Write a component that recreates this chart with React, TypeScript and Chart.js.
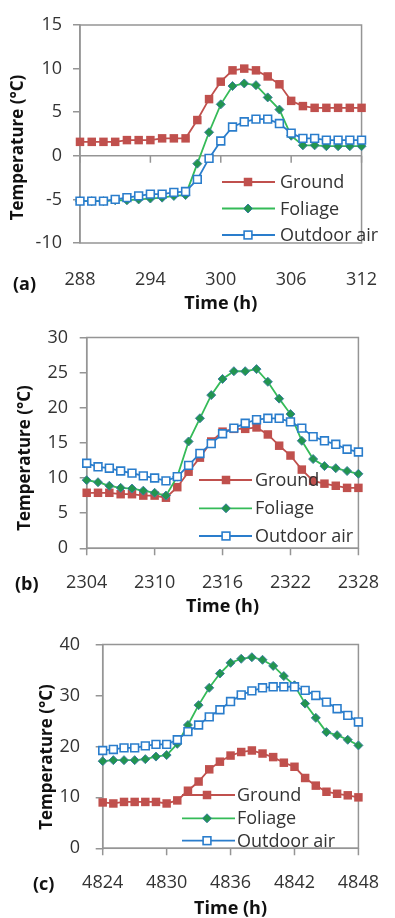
import React, { useEffect, useRef } from 'react';
import { Chart, registerables } from 'chart.js';

Chart.register(...registerables);

// ---------- data ----------
const seriesNames = ['Ground', 'Foliage', 'Outdoor air'];

const hoursA = [288, 289, 290, 291, 292, 293, 294, 295, 296, 297, 298, 299, 300, 301, 302, 303, 304, 305, 306, 307, 308, 309, 310, 311, 312];
const groundA = [1.6, 1.6, 1.6, 1.6, 1.8, 1.8, 1.8, 2.0, 2.0, 2.0, 4.1, 6.5, 8.5, 9.8, 10.0, 9.8, 9.1, 8.2, 6.3, 5.7, 5.5, 5.5, 5.5, 5.5, 5.5];
const foliageA = [-5.2, -5.2, -5.2, -5.1, -5.1, -5.0, -4.9, -4.8, -4.6, -4.5, -0.9, 2.7, 5.9, 8.0, 8.3, 8.1, 6.7, 5.3, 2.3, 1.2, 1.2, 1.1, 1.1, 1.1, 1.1];
const outdoorA = [-5.2, -5.2, -5.2, -5.0, -4.8, -4.6, -4.4, -4.4, -4.2, -4.1, -2.7, -0.3, 1.7, 3.3, 3.9, 4.2, 4.2, 3.7, 2.6, 2.0, 2.0, 1.8, 1.8, 1.8, 1.8];
const xTicksA = [288, 294, 300, 306, 312];
const yTicksA = [-10, -5, 0, 5, 10, 15];

const hoursB = [2304, 2305, 2306, 2307, 2308, 2309, 2310, 2311, 2312, 2313, 2314, 2315, 2316, 2317, 2318, 2319, 2320, 2321, 2322, 2323, 2324, 2325, 2326, 2327, 2328];
const groundB = [7.9, 7.9, 7.9, 7.7, 7.7, 7.5, 7.5, 7.2, 8.7, 10.9, 12.9, 15.2, 16.6, 17.0, 17.0, 17.2, 16.2, 14.6, 13.2, 11.2, 9.6, 9.2, 8.9, 8.6, 8.6];
const foliageB = [9.7, 9.4, 8.9, 8.6, 8.5, 8.2, 7.9, 7.5, 10.2, 15.2, 18.5, 21.8, 24.1, 25.2, 25.2, 25.5, 23.7, 21.3, 19.1, 15.3, 12.7, 11.7, 11.4, 11.0, 10.6];
const outdoorB = [12.1, 11.6, 11.4, 11.0, 10.7, 10.3, 10.0, 9.6, 10.2, 11.8, 13.5, 14.9, 16.3, 17.1, 17.8, 18.3, 18.5, 18.5, 18.0, 17.1, 15.9, 15.3, 14.8, 14.1, 13.7];
const xTicksB = [2304, 2310, 2316, 2322, 2328];
const yTicksB = [0, 5, 10, 15, 20, 25, 30];

const hoursC = [4824, 4825, 4826, 4827, 4828, 4829, 4830, 4831, 4832, 4833, 4834, 4835, 4836, 4837, 4838, 4839, 4840, 4841, 4842, 4843, 4844, 4845, 4846, 4847, 4848];
const groundC = [9.0, 8.8, 9.1, 9.1, 9.1, 9.1, 8.8, 9.4, 11.3, 13.1, 15.5, 17.0, 18.2, 18.9, 19.2, 18.6, 17.9, 16.8, 16.0, 13.8, 12.3, 11.1, 10.7, 10.4, 10.0];
const foliageC = [17.1, 17.3, 17.3, 17.3, 17.5, 18.0, 18.3, 20.5, 24.2, 28.1, 31.5, 34.3, 36.4, 37.2, 37.5, 37.0, 35.8, 33.8, 32.0, 28.4, 25.6, 22.8, 22.2, 21.3, 20.2];
const outdoorC = [19.2, 19.4, 19.7, 19.7, 20.1, 20.4, 20.4, 21.3, 22.9, 24.2, 25.8, 27.2, 28.8, 30.1, 30.9, 31.5, 31.7, 31.7, 31.7, 31.0, 30.0, 28.7, 27.4, 26.1, 24.8];
const xTicksC = [4824, 4830, 4836, 4842, 4848];
const yTicksC = [0, 10, 20, 30, 40];

// ---------- styles ----------
const FONT = "'Open Sans', 'DejaVu Sans', sans-serif";
const AXIS = '#959595';
const TEXT = '#333333';
const C_GROUND = '#c0504d';
const C_FOL_LINE = '#35bb58';
const C_FOL_FILL = '#22954f';
const C_FOL_EDGE = '#3d80a0';
const C_OUT = '#2a7dcc';

type Layout = {
  top: number; height: number; axisW: number; padTop: number; padRight: number;
  xAxisH: number; xTickPad: number; yTickPad: number; titlePadB: number;
  yTitleX: number; yTitleY: number; label: string; labelX: number; labelY: number;
  legRows: number[]; legLine: [number, number]; legMarker: number; legText: number;
};

const decorPlugin = {
  id: 'decor',
  beforeDatasetsDraw(chart: any) {
    const { ctx, chartArea: ca } = chart;
    const xs = chart.scales.x, ys = chart.scales.y;
    ctx.save();
    ctx.strokeStyle = AXIS;
    ctx.lineWidth = 1.5;
    ctx.strokeRect(ca.left, ca.top, ca.right - ca.left, ca.bottom - ca.top);
    const y0 = ys.getPixelForValue(0);
    ctx.beginPath();
    ctx.moveTo(ca.left, y0);
    ctx.lineTo(ca.right, y0);
    for (const t of xs.ticks) {
      const px = xs.getPixelForValue(t.value);
      ctx.moveTo(px, y0);
      ctx.lineTo(px, y0 + 7);
    }
    ctx.stroke();
    ctx.restore();
  },
  afterDatasetsDraw(chart: any, _a: any, o: any) {
    const { ctx } = chart;
    const L: Layout = o.layout;
    ctx.save();
    ctx.font = `18px ${FONT}`;
    ctx.textBaseline = 'middle';
    ctx.textAlign = 'left';
    seriesNames.forEach((name, i) => {
      const y = L.legRows[i];
      const col = i === 0 ? C_GROUND : i === 1 ? C_FOL_LINE : C_OUT;
      ctx.strokeStyle = col;
      ctx.lineWidth = 1.8;
      ctx.beginPath();
      ctx.moveTo(L.legLine[0], y);
      ctx.lineTo(L.legLine[1], y);
      ctx.stroke();
      const m = L.legMarker;
      if (i === 0) {
        ctx.fillStyle = C_GROUND;
        ctx.fillRect(m - 4.25, y - 4.25, 8.5, 8.5);
      } else if (i === 1) {
        ctx.beginPath();
        ctx.moveTo(m, y - 4.5);
        ctx.lineTo(m + 4.5, y);
        ctx.lineTo(m, y + 4.5);
        ctx.lineTo(m - 4.5, y);
        ctx.closePath();
        ctx.fillStyle = C_FOL_FILL;
        ctx.fill();
        ctx.strokeStyle = C_FOL_EDGE;
        ctx.lineWidth = 1;
        ctx.stroke();
      } else {
        ctx.fillStyle = '#ffffff';
        ctx.fillRect(m - 3.9, y - 3.9, 7.8, 7.8);
        ctx.strokeStyle = C_OUT;
        ctx.lineWidth = 1.6;
        ctx.strokeRect(m - 3.9, y - 3.9, 7.8, 7.8);
      }
      ctx.fillStyle = TEXT;
      ctx.fillText(name, L.legText, y + 1);
    });
    ctx.restore();
  },
  afterDraw(chart: any, _a: any, o: any) {
    const { ctx } = chart;
    const L: Layout = o.layout;
    ctx.save();
    ctx.fillStyle = '#111111';
    ctx.textBaseline = 'middle';
    ctx.font = `bold 17px ${FONT}`;
    ctx.translate(L.yTitleX, L.yTitleY);
    ctx.rotate(-Math.PI / 2);
    ctx.textAlign = 'center';
    ctx.fillText('Temperature (°C)', 0, 0);
    ctx.restore();
    ctx.save();
    ctx.fillStyle = '#111111';
    ctx.textBaseline = 'middle';
    ctx.textAlign = 'left';
    ctx.font = `bold 18px ${FONT}`;
    ctx.fillText(L.label, L.labelX, L.labelY);
    ctx.restore();
  },
};

type PanelProps = {
  hours: number[]; ground: number[]; foliage: number[]; outdoor: number[];
  xTicks: number[]; yTicks: number[]; layout: Layout;
};

function Panel({ hours, ground, foliage, outdoor, xTicks, yTicks, layout }: PanelProps) {
  const ref = useRef<HTMLCanvasElement>(null);
  useEffect(() => {
    const pts = (vals: number[]) => hours.map((h, i) => ({ x: h, y: vals[i] }));
    const chart = new Chart(ref.current as HTMLCanvasElement, {
      type: 'line',
      data: {
        datasets: [
          {
            label: seriesNames[0], data: pts(ground), borderColor: C_GROUND, backgroundColor: C_GROUND,
            borderWidth: 1.8, pointStyle: 'rect', pointRadius: 6, pointBorderWidth: 0,
            pointBackgroundColor: C_GROUND, tension: 0, order: 3, clip: false,
          } as any,
          {
            label: seriesNames[1], data: pts(foliage), borderColor: C_FOL_LINE, backgroundColor: C_FOL_FILL,
            borderWidth: 1.8, pointStyle: 'rectRot', pointRadius: 4.5, pointBorderWidth: 1,
            pointBackgroundColor: C_FOL_FILL, pointBorderColor: C_FOL_EDGE, tension: 0, order: 2, clip: false,
          } as any,
          {
            label: seriesNames[2], data: pts(outdoor), borderColor: C_OUT, backgroundColor: '#ffffff',
            borderWidth: 1.8, pointStyle: 'rect', pointRadius: 5.5, pointBorderWidth: 1.6,
            pointBackgroundColor: '#ffffff', pointBorderColor: C_OUT, tension: 0, order: 1, clip: false,
          } as any,
        ],
      },
      options: {
        responsive: false,
        animation: false,
        events: [],
        layout: {
          padding: { left: 0, top: layout.padTop, right: layout.padRight, bottom: 0 },
          autoPadding: false,
        } as any,
        plugins: {
          legend: { display: false },
          tooltip: { enabled: false },
          decor: { layout },
        } as any,
        scales: {
          x: {
            type: 'linear',
            position: 'bottom',
            min: xTicks[0],
            max: xTicks[xTicks.length - 1],
            afterBuildTicks: (s: any) => { s.ticks = xTicks.map((v) => ({ value: v })); },
            afterFit: (s: any) => { s.height = layout.xAxisH; },
            grid: { display: false },
            border: { display: false },
            ticks: {
              color: TEXT, font: { family: FONT, size: 18 }, padding: layout.xTickPad,
              maxRotation: 0, autoSkip: false, callback: (v: any) => String(v),
            },
            title: {
              display: true, text: 'Time (h)', color: '#111111',
              font: { family: FONT, size: 18, weight: 'bold' },
              padding: { top: 0, bottom: layout.titlePadB },
            },
          },
          y: {
            type: 'linear',
            min: yTicks[0],
            max: yTicks[yTicks.length - 1],
            afterBuildTicks: (s: any) => { s.ticks = yTicks.map((v) => ({ value: v })); },
            afterFit: (s: any) => { s.width = layout.axisW; },
            grid: { drawOnChartArea: false, drawTicks: true, tickLength: 7, color: AXIS, lineWidth: 1.5 },
            border: { display: true, color: AXIS, width: 1.5 },
            ticks: {
              color: TEXT, font: { family: FONT, size: 18 }, padding: layout.yTickPad,
              callback: (v: any) => String(v),
            },
          },
        } as any,
      },
      plugins: [decorPlugin as any],
    });
    return () => chart.destroy();
  }, []);
  return (
    <canvas
      ref={ref}
      width={395}
      height={layout.height}
      style={{ position: 'absolute', left: 0, top: layout.top, width: 395, height: layout.height }}
    />
  );
}

const layoutA: Layout = {
  top: 0, height: 315, axisW: 80, padTop: 25, padRight: 19, xAxisH: 72, xTickPad: 18, yTickPad: 11,
  titlePadB: 0, yTitleX: 18, yTitleY: 147.5, label: '(a)', labelX: 13, labelY: 285,
  legRows: [182, 208.5, 235], legLine: [222, 275], legMarker: 248, legText: 280,
};
const layoutB: Layout = {
  top: 315, height: 303, axisW: 86.7, padTop: 19.3, padRight: 18.3, xAxisH: 69.7, xTickPad: 16, yTickPad: 11.7,
  titlePadB: 0, yTitleX: 25, yTitleY: 143, label: '(b)', labelX: 15, labelY: 270,
  legRows: [165, 193.3, 221], legLine: [199, 252], legMarker: 226, legText: 255,
};
const layoutC: Layout = {
  top: 618, height: 300, axisW: 102.7, padTop: 22, padRight: 33.3, xAxisH: 69.7, xTickPad: 16, yTickPad: 15.7,
  titlePadB: -2, yTitleX: 47.5, yTitleY: 139, label: '(c)', labelX: 33, labelY: 267,
  legRows: [177, 200.3, 222.7], legLine: [182, 235], legMarker: 207, legText: 237,
};

export default function App() {
  return (
    <div style={{ position: 'absolute', left: 0, top: 0, width: 395, height: 918, overflow: 'hidden', background: '#ffffff' }}>
      <Panel hours={hoursA} ground={groundA} foliage={foliageA} outdoor={outdoorA} xTicks={xTicksA} yTicks={yTicksA} layout={layoutA} />
      <Panel hours={hoursB} ground={groundB} foliage={foliageB} outdoor={outdoorB} xTicks={xTicksB} yTicks={yTicksB} layout={layoutB} />
      <Panel hours={hoursC} ground={groundC} foliage={foliageC} outdoor={outdoorC} xTicks={xTicksC} yTicks={yTicksC} layout={layoutC} />
    </div>
  );
}
